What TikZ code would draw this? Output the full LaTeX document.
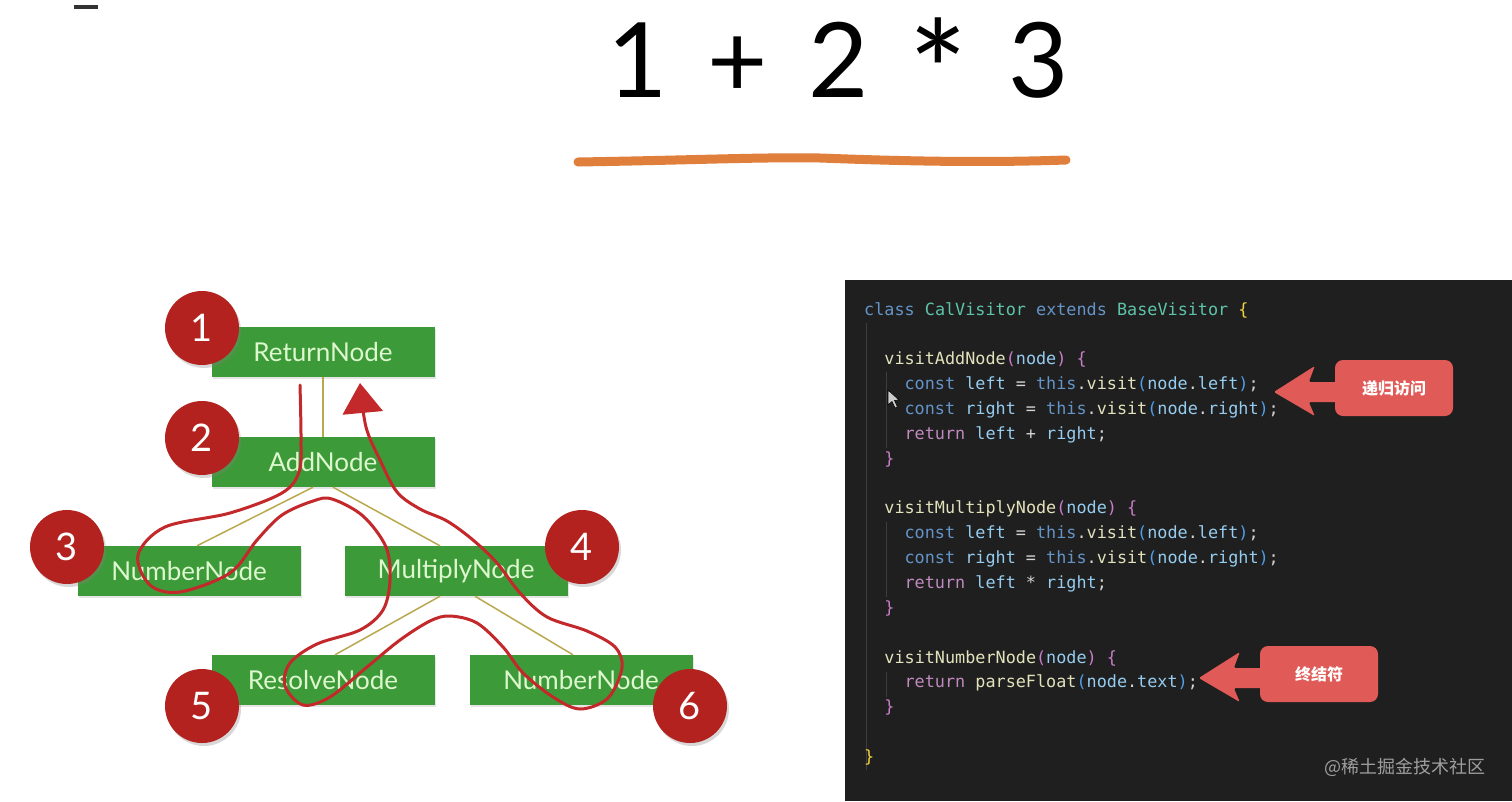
\documentclass[tikz,border=0pt]{standalone}
\usepackage{fontspec}
\setmainfont{Lato}
\newfontfamily\codefont{DejaVu Sans Mono}
\newfontfamily\cjk{Noto Sans CJK SC}
\usetikzlibrary{calc,arrows.meta,shadows}

\definecolor{boxgreen}{HTML}{3D9A38}
\definecolor{boxtext}{HTML}{DDF7CF}
\definecolor{edgeolive}{HTML}{B9A84E}
\definecolor{badgered}{HTML}{B3221F}
\definecolor{trailred}{HTML}{C3282B}
\definecolor{lineorange}{HTML}{E07E3C}
\definecolor{codebg}{HTML}{1F1F1F}
\definecolor{guide}{HTML}{3E3E3E}
\definecolor{calloutred}{HTML}{E05A57}
\definecolor{plainc}{HTML}{D4D4D4}
\definecolor{kwc}{HTML}{6494C8}
\definecolor{tyc}{HTML}{5EC4A8}
\definecolor{fnc}{HTML}{E2E2BC}
\definecolor{vrc}{HTML}{96CCF0}
\definecolor{retc}{HTML}{C08ABF}
\definecolor{brA}{HTML}{F2D33C}
\definecolor{brB}{HTML}{C77DC8}
\definecolor{brC}{HTML}{4E9EE8}

% token colours for the code panel
\newcommand\ckw[1]{\textcolor{kwc}{#1}}
\newcommand\cty[1]{\textcolor{tyc}{#1}}
\newcommand\cfn[1]{\textcolor{fnc}{#1}}
\newcommand\cvr[1]{\textcolor{vrc}{#1}}
\newcommand\cret[1]{\textcolor{retc}{#1}}

% fat arrow pointing left out of a callout box
\newcommand\callarrow[1]{%
  \fill[calloutred, rounded corners=1.5pt]
    ($(#1.west)+(3,-6)$) -- ($(#1.west)+(-26,-6)$) -- ($(#1.west)+(-20,-22)$)
    -- ($(#1.west)+(-61,4)$) -- ($(#1.west)+(-20,28)$) -- ($(#1.west)+(-26,14)$)
    -- ($(#1.west)+(3,14)$) -- cycle;}

\tikzset{
  treebox/.style={fill=boxgreen, text=boxtext, minimum width=223pt, minimum height=50pt,
    inner sep=0pt, font=\fontsize{26}{30}\selectfont,
    drop shadow={shadow xshift=1pt, shadow yshift=-2pt, opacity=0.2}},
  badge/.style={circle, fill=badgered, text=white, minimum size=74pt, inner sep=0pt,
    font=\fontsize{38}{40}\selectfont,
    drop shadow={shadow xshift=2pt, shadow yshift=-3pt, opacity=0.3}},
  edge/.style={draw=edgeolive, line width=1.5pt},
  trail/.style={draw=trailred, line width=3pt, line cap=round, line join=round},
  code/.style={anchor=base west, inner sep=0pt, text=plainc,
    font=\codefont\fontsize{16.8}{20}\selectfont},
  callout/.style={fill=calloutred, text=white, rounded corners=8pt, minimum width=118pt,
    minimum height=56pt, font=\cjk\bfseries\fontsize{16}{18}\selectfont},
}

\begin{document}
\begin{tikzpicture}[x=1pt, y=-1pt]
\useasboundingbox (0,0) rectangle (1512,801);
\fill[white] (0,0) rectangle (1512,801);

% title
\draw[line width=4pt, black!80] (74,7) -- (98,7);
\node[anchor=base, inner sep=0pt] (expr) at (838,97)
  {\fontsize{104}{110}\selectfont\spaceskip=40pt 1 + 2 \raisebox{-26pt}{\scalebox{1.35}{*}} 3};
\draw[line width=9pt, lineorange, line cap=round]
  (578,162) .. controls (700,160) and (760,157) .. (820,158)
  .. controls (900,161) and (980,163) .. (1066,160);

% tree
\node[treebox] (ret) at (323,352) {ReturnNode};
\node[treebox] (add) at (323,462) {AddNode};
\node[treebox] (numL) at (189,571) {NumberNode};
\node[treebox] (mul) at (456,571) {MultiplyNode};
\node[treebox] (res) at (323,680) {ResolveNode};
\node[treebox] (numR) at (581,680) {NumberNode};
\draw[edge] (ret.south) -- (add.north);
\draw[edge] ([xshift=-10pt]add.south) -- ([xshift=8pt]numL.north);
\draw[edge] ([xshift=10pt]add.south) -- ([xshift=-16pt]mul.north);
\draw[edge] ([xshift=-16pt]mul.south) -- ([xshift=12pt]res.north);
\draw[edge] ([xshift=19pt]mul.south) -- ([xshift=-8pt]numR.north);

\node[badge] (b1) at (202,328) {1};
\node[badge] (b2) at (202,438) {2};
\node[badge] (b3) at (67,547) {3};
\node[badge] (b4) at (582,547) {4};
\node[badge] (b5) at (202,706) {5};
\node[badge] (b6) at (690,706) {6};

% visiting order, hand drawn
\draw[trail, -{Triangle[length=30pt,width=40pt]}] plot[smooth, tension=0.55] coordinates {
  (300,385) (301,440) (299,472) (282,493) (230,513) (165,527) (138,555) (150,585)
  (180,592) (230,573) (257,540) (282,515) (313,501) (332,499) (363,516) (386,547)
  (390,580) (383,610) (360,630) (317,644) (290,663) (285,686) (303,705) (330,697)
  (367,667) (400,640) (430,621) (450,616) (477,623) (503,647) (523,673) (553,697)
  (580,709) (608,698) (622,668) (615,647) (587,631) (547,617) (520,593) (497,563)
  (473,540) (447,521) (420,509) (397,492) (380,460) (366,427) (360,383)};

% code panel
\fill[codebg] (845,280) rectangle (1512,801);
\draw[guide, line width=1pt] (866,323) -- (866,770);
\draw[guide, line width=1pt] (886,372) -- (886,448);
\draw[guide, line width=1pt] (886,522) -- (886,597);
\draw[guide, line width=1pt] (886,672) -- (886,697);

\node[code] (k0) at (864,315) {\ckw{class} \cty{CalVisitor} \ckw{extends} \cty{BaseVisitor} \textcolor{brA}{\{}};
\node[code] (k2) at (884.2,364.7) {\cfn{visitAddNode}\textcolor{brB}{(}\cvr{node}\textcolor{brB}{)} \textcolor{brB}{\{}};
\node[code] (k3) at (904.4,389.6) {\ckw{const} \cvr{left} = \ckw{this}.\cfn{visit}\textcolor{brC}{(}\cvr{node}.\cvr{left}\textcolor{brC}{)};};
\node[code] (k4) at (904.4,414.4) {\ckw{const} \cvr{right} = \ckw{this}.\cfn{visit}\textcolor{brC}{(}\cvr{node}.\cvr{right}\textcolor{brC}{)};};
\node[code] (k5) at (904.4,439.3) {\cret{return} \cvr{left} + \cvr{right};};
\node[code] (k6) at (884.2,464) {\textcolor{brB}{\}}};
\node[code] (k8) at (884.2,513.8) {\cfn{visitMultiplyNode}\textcolor{brB}{(}\cvr{node}\textcolor{brB}{)} \textcolor{brB}{\{}};
\node[code] (k9) at (904.4,538.7) {\ckw{const} \cvr{left} = \ckw{this}.\cfn{visit}\textcolor{brC}{(}\cvr{node}.\cvr{left}\textcolor{brC}{)};};
\node[code] (k10) at (904.4,563.5) {\ckw{const} \cvr{right} = \ckw{this}.\cfn{visit}\textcolor{brC}{(}\cvr{node}.\cvr{right}\textcolor{brC}{)};};
\node[code] (k11) at (904.4,588.4) {\cret{return} \cvr{left} * \cvr{right};};
\node[code] (k12) at (884.2,613.2) {\textcolor{brB}{\}}};
\node[code] (k14) at (884.2,663) {\cfn{visitNumberNode}\textcolor{brB}{(}\cvr{node}\textcolor{brB}{)} \textcolor{brB}{\{}};
\node[code] (k15) at (904.4,687.8) {\cret{return} \cfn{parseFloat}\textcolor{brC}{(}\cvr{node}.\cvr{text}\textcolor{brC}{)};};
\node[code] (k16) at (884.2,712.6) {\textcolor{brB}{\}}};
\node[code] (k18) at (864,762.3) {\textcolor{brA}{\}}};

% mouse pointer
\filldraw[fill=white!80!black, draw=black, line width=0.6pt]
  (888,390) -- (888,405) -- (892,401.5) -- (895,408) -- (897.5,407) -- (894.5,400.5) -- (899,400) -- cycle;

% callouts
\node[callout] (recur) at (1394,388) {递归访问};
\callarrow{recur}
\node[callout] (leaf) at (1319,674) {终结符};
\callarrow{leaf}

\node[anchor=east, text=black!38, font=\cjk\fontsize{18}{20}\selectfont] (mark) at (1489,767) {@稀土掘金技术社区};
\end{tikzpicture}
\end{document}
